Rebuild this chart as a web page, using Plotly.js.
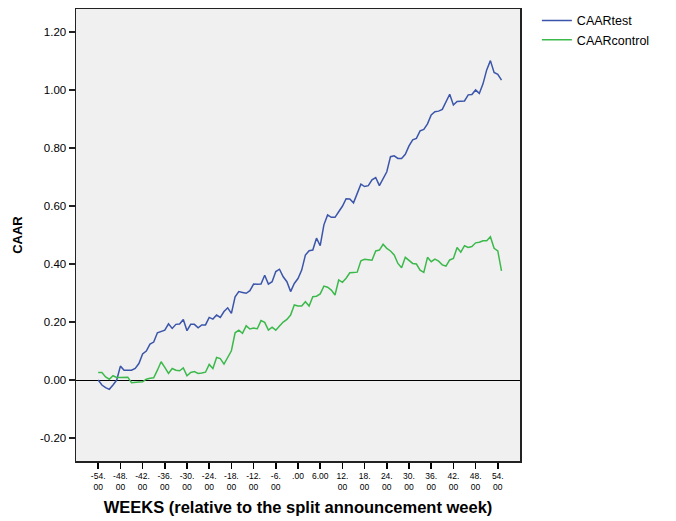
<!DOCTYPE html>
<html>
<head>
<meta charset="utf-8">
<script src="https://cdn.plot.ly/plotly-3.0.1.min.js"></script>
<style>html,body{margin:0;padding:0;background:#fff;}#chart{width:676px;height:521px;}</style>
</head>
<body>
<div id="chart"></div>
<script>
// Weeks relative to the split announcement week
const weeks = [];
for (let w = -54; w <= 55; w++) weeks.push(w);

const caarTest = [
  0.000, -0.017, -0.026, -0.032, -0.017, 0.000, 0.048, 0.034, 0.034, 0.034,
  0.040, 0.057, 0.090, 0.100, 0.124, 0.131, 0.163, 0.167, 0.172, 0.194,
  0.178, 0.192, 0.193, 0.209, 0.170, 0.192, 0.192, 0.180, 0.190, 0.190,
  0.216, 0.210, 0.224, 0.216, 0.236, 0.249, 0.230, 0.287, 0.305, 0.302,
  0.299, 0.308, 0.331, 0.330, 0.331, 0.361, 0.331, 0.339, 0.374, 0.382,
  0.356, 0.339, 0.305, 0.333, 0.350, 0.379, 0.431, 0.446, 0.448, 0.489,
  0.463, 0.535, 0.569, 0.561, 0.561, 0.580, 0.599, 0.625, 0.624, 0.611,
  0.646, 0.675, 0.667, 0.670, 0.690, 0.698, 0.670, 0.692, 0.718, 0.770,
  0.773, 0.764, 0.764, 0.778, 0.807, 0.828, 0.833, 0.859, 0.864, 0.883,
  0.914, 0.925, 0.927, 0.933, 0.960, 0.985, 0.948, 0.960, 0.961, 0.962,
  0.983, 0.984, 1.000, 0.988, 1.021, 1.069, 1.101, 1.060, 1.054, 1.034
];

const caarControl = [
  0.026, 0.026, 0.011, 0.003, 0.015, 0.009, 0.009, 0.009, 0.010, -0.009,
  -0.007, -0.007, -0.006, 0.003, 0.006, 0.008, 0.034, 0.063, 0.044, 0.023,
  0.040, 0.034, 0.032, 0.042, 0.015, 0.026, 0.029, 0.023, 0.024, 0.027,
  0.054, 0.040, 0.078, 0.074, 0.055, 0.078, 0.101, 0.163, 0.172, 0.161,
  0.187, 0.176, 0.179, 0.177, 0.205, 0.199, 0.172, 0.182, 0.172, 0.186,
  0.200, 0.209, 0.224, 0.259, 0.255, 0.255, 0.270, 0.255, 0.287, 0.289,
  0.297, 0.324, 0.320, 0.310, 0.293, 0.345, 0.337, 0.351, 0.370, 0.371,
  0.372, 0.411, 0.416, 0.415, 0.413, 0.445, 0.448, 0.468, 0.454, 0.445,
  0.431, 0.402, 0.387, 0.423, 0.411, 0.402, 0.400, 0.379, 0.371, 0.423,
  0.408, 0.417, 0.410, 0.397, 0.393, 0.414, 0.419, 0.457, 0.441, 0.463,
  0.457, 0.460, 0.473, 0.475, 0.480, 0.480, 0.494, 0.454, 0.445, 0.376
];

const xTickVals = [-54,-48,-42,-36,-30,-24,-18,-12,-6,0,6,12,18,24,30,36,42,48,54];
const xTickText = ["-54.<br>00","-48.<br>00","-42.<br>00","-36.<br>00","-30.<br>00","-24.<br>00",
  "-18.<br>00","-12.<br>00","-6.<br>00",".00","6.00","12.<br>00","18.<br>00","24.<br>00",
  "30.<br>00","36.<br>00","42.<br>00","48.<br>00","54.<br>00"];
const yTickVals = [-0.2, 0, 0.2, 0.4, 0.6, 0.8, 1.0, 1.2];
const yTickText = ["-0.20","0.00","0.20","0.40","0.60","0.80","1.00","1.20"];

const traces = [
  {x: weeks, y: caarTest, name: "CAARtest", type: "scatter", mode: "lines",
   line: {color: "#3b55aa", width: 1.5}},
  {x: weeks, y: caarControl, name: "CAARcontrol", type: "scatter", mode: "lines",
   line: {color: "#3cb94b", width: 1.5}}
];

const layout = {
  width: 676, height: 521,
  margin: {l: 76, r: 156, t: 9, b: 60, autoexpand: false},
  paper_bgcolor: "#ffffff",
  plot_bgcolor: "#f0f0f0",
  font: {family: "Liberation Sans, Arial, sans-serif", color: "#000"},
  showlegend: true,
  legend: {x: 1.038, y: 1.007, xanchor: "left", yanchor: "top",
           font: {size: 12.5, color: "#000"}, bgcolor: "rgba(0,0,0,0)", tracegroupgap: 0},
  xaxis: {
    range: [-60, 60], tickmode: "array", tickvals: xTickVals, ticktext: xTickText,
    ticks: "outside", ticklen: 6, tickwidth: 1.5, tickcolor: "#000",
    showgrid: false, zeroline: false,
    showline: true, mirror: true, linecolor: "#222", linewidth: 1.5,
    tickfont: {size: 8.5, color: "#000"},
    title: {text: "WEEKS (relative to the split announcement week)",
            font: {size: 16.5, color: "#000", family: "Liberation Sans, Arial, sans-serif", weight: "bold"},
            standoff: 10}
  },
  yaxis: {
    range: [-0.279, 1.279], tickmode: "array", tickvals: yTickVals, ticktext: yTickText,
    ticks: "outside", ticklen: 6, tickwidth: 1.5, tickcolor: "#222",
    showgrid: false, zeroline: true, zerolinecolor: "#000", zerolinewidth: 1,
    showline: true, mirror: true, linecolor: "#222", linewidth: 1.5,
    tickfont: {size: 11.5, color: "#000"},
    title: {text: "CAAR",
            font: {size: 13, color: "#000", family: "Liberation Sans, Arial, sans-serif", weight: "bold"},
            standoff: 14}
  }
};

Plotly.newPlot("chart", traces, layout, {displayModeBar: false, staticPlot: true});
</script>
</body>
</html>
